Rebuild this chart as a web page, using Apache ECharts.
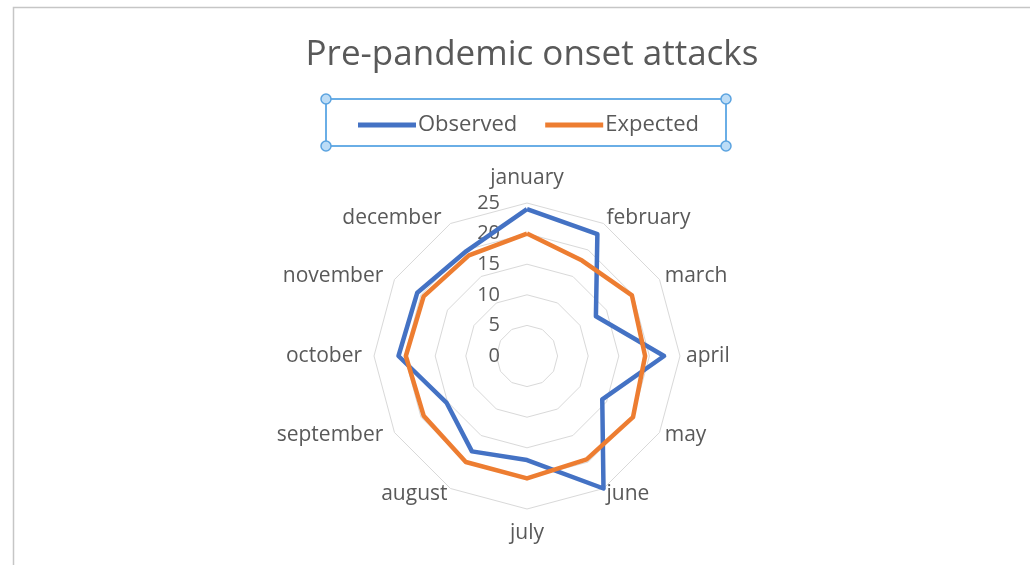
<!DOCTYPE html>
<html>
<head>
<meta charset="utf-8">
<script src="https://cdn.jsdelivr.net/npm/echarts@6/dist/echarts.min.js"></script>
<style>
  html, body { margin: 0; padding: 0; background: #fff; }
  #chart { width: 1030px; height: 565px; }
</style>
</head>
<body>
<div id="chart"></div>
<script>
// months around the radar, clockwise from the top
const months = ['january', 'february', 'march', 'april', 'may', 'june',
  'july', 'august', 'september', 'october', 'november', 'december']
const observed = [24, 23, 13, 22.4, 14.2, 25, 17, 18, 15.2, 21, 20.7, 19.8]
const expected = [20, 18, 19.8, 19.3, 20, 19.5, 20, 20, 19.5, 19.8, 19.5, 19]
const ticks = [0, 5, 10, 15, 20, 25]

// echarts radar goes counter-clockwise, so walk the months backwards after january
const order = months.map((_, i) => (months.length - i) % months.length)
const ccw = arr => order.map(i => arr[i])

const textColor = '#595959'
const fontFamily = '"Open Sans", "Noto Sans", sans-serif'
const center = [527, 356]
const radius = 153

// nudge the month names a bit further out at top/bottom and on the left side
const nameStyle = name => {
  if (name === 'january') return 'top'
  if (name === 'july') return 'bottom'
  if (['september', 'october', 'november', 'december'].includes(name)) return 'left'
  return 'plain'
}

const chart = echarts.init(document.getElementById('chart'))

chart.setOption({
  animation: false,
  backgroundColor: '#fff',
  title: {
    text: 'Pre-pandemic onset attacks',
    left: 527,
    textAlign: 'center',
    top: 33,
    textStyle: { color: textColor, fontSize: 35, fontWeight: 'normal', fontFamily }
  },
  legend: {
    top: 109,
    left: 353,
    itemWidth: 58,
    itemHeight: 5,
    itemGap: 28,
    icon: 'rect',
    data: ['Observed', 'Expected'],
    textStyle: { color: textColor, fontSize: 22, fontFamily, padding: [0, 0, 0, -3] }
  },
  radar: {
    center,
    radius,
    shape: 'polygon',
    startAngle: 90,
    splitNumber: 5,
    indicator: ccw(months).map(m => ({ name: m, min: 0, max: ticks[ticks.length - 1] })),
    axisName: {
      color: textColor,
      fontSize: 21,
      fontFamily,
      formatter: name => `{${nameStyle(name)}|${name}}`,
      rich: {
        plain: { color: textColor, fontSize: 21, fontFamily },
        top: { color: textColor, fontSize: 21, fontFamily, padding: [0, 0, 8, 0] },
        bottom: { color: textColor, fontSize: 21, fontFamily, padding: [8, 0, 0, 0] },
        left: { color: textColor, fontSize: 21, fontFamily, padding: [0, 6, 0, 0] }
      }
    },
    nameGap: 6,
    axisLine: { show: false },
    axisTick: { show: false },
    splitArea: { show: false },
    splitLine: { lineStyle: { color: '#d9d9d9', width: 1 } }
  },
  // polar overlay only to draw the value labels on the vertical axis
  polar: { center, radius },
  angleAxis: { show: false, startAngle: 90, min: 0, max: 360 },
  radiusAxis: {
    min: 0,
    max: ticks[ticks.length - 1],
    interval: 5,
    axisLine: { show: false },
    axisTick: { show: false },
    splitLine: { show: false },
    axisLabel: { color: textColor, fontSize: 20, fontFamily, margin: 27 }
  },
  series: [{
    type: 'radar',
    symbol: 'none',
    data: [
      { name: 'Observed', value: ccw(observed), lineStyle: { color: '#4472C4', width: 4.5 }, itemStyle: { color: '#4472C4' } },
      { name: 'Expected', value: ccw(expected), lineStyle: { color: '#ED7D31', width: 4.5 }, itemStyle: { color: '#ED7D31' } }
    ]
  }],
  graphic: [
    // chart area border
    { type: 'rect', shape: { x: 13.5, y: 7.5, width: 1030, height: 570 }, style: { fill: null, stroke: '#c6c6c6', lineWidth: 1.5 }, silent: true },
    // selected legend frame with handles
    { type: 'rect', shape: { x: 326, y: 99, width: 400, height: 47 }, style: { fill: null, stroke: '#6aaee6', lineWidth: 2 }, silent: true },
    { type: 'circle', shape: { cx: 326, cy: 99, r: 5 }, style: { fill: '#bcdcf6', stroke: '#5ba3e0', lineWidth: 1.5 } },
    { type: 'circle', shape: { cx: 726, cy: 99, r: 5 }, style: { fill: '#bcdcf6', stroke: '#5ba3e0', lineWidth: 1.5 } },
    { type: 'circle', shape: { cx: 326, cy: 146, r: 5 }, style: { fill: '#bcdcf6', stroke: '#5ba3e0', lineWidth: 1.5 } },
    { type: 'circle', shape: { cx: 726, cy: 146, r: 5 }, style: { fill: '#bcdcf6', stroke: '#5ba3e0', lineWidth: 1.5 } }
  ]
})
</script>
</body>
</html>
